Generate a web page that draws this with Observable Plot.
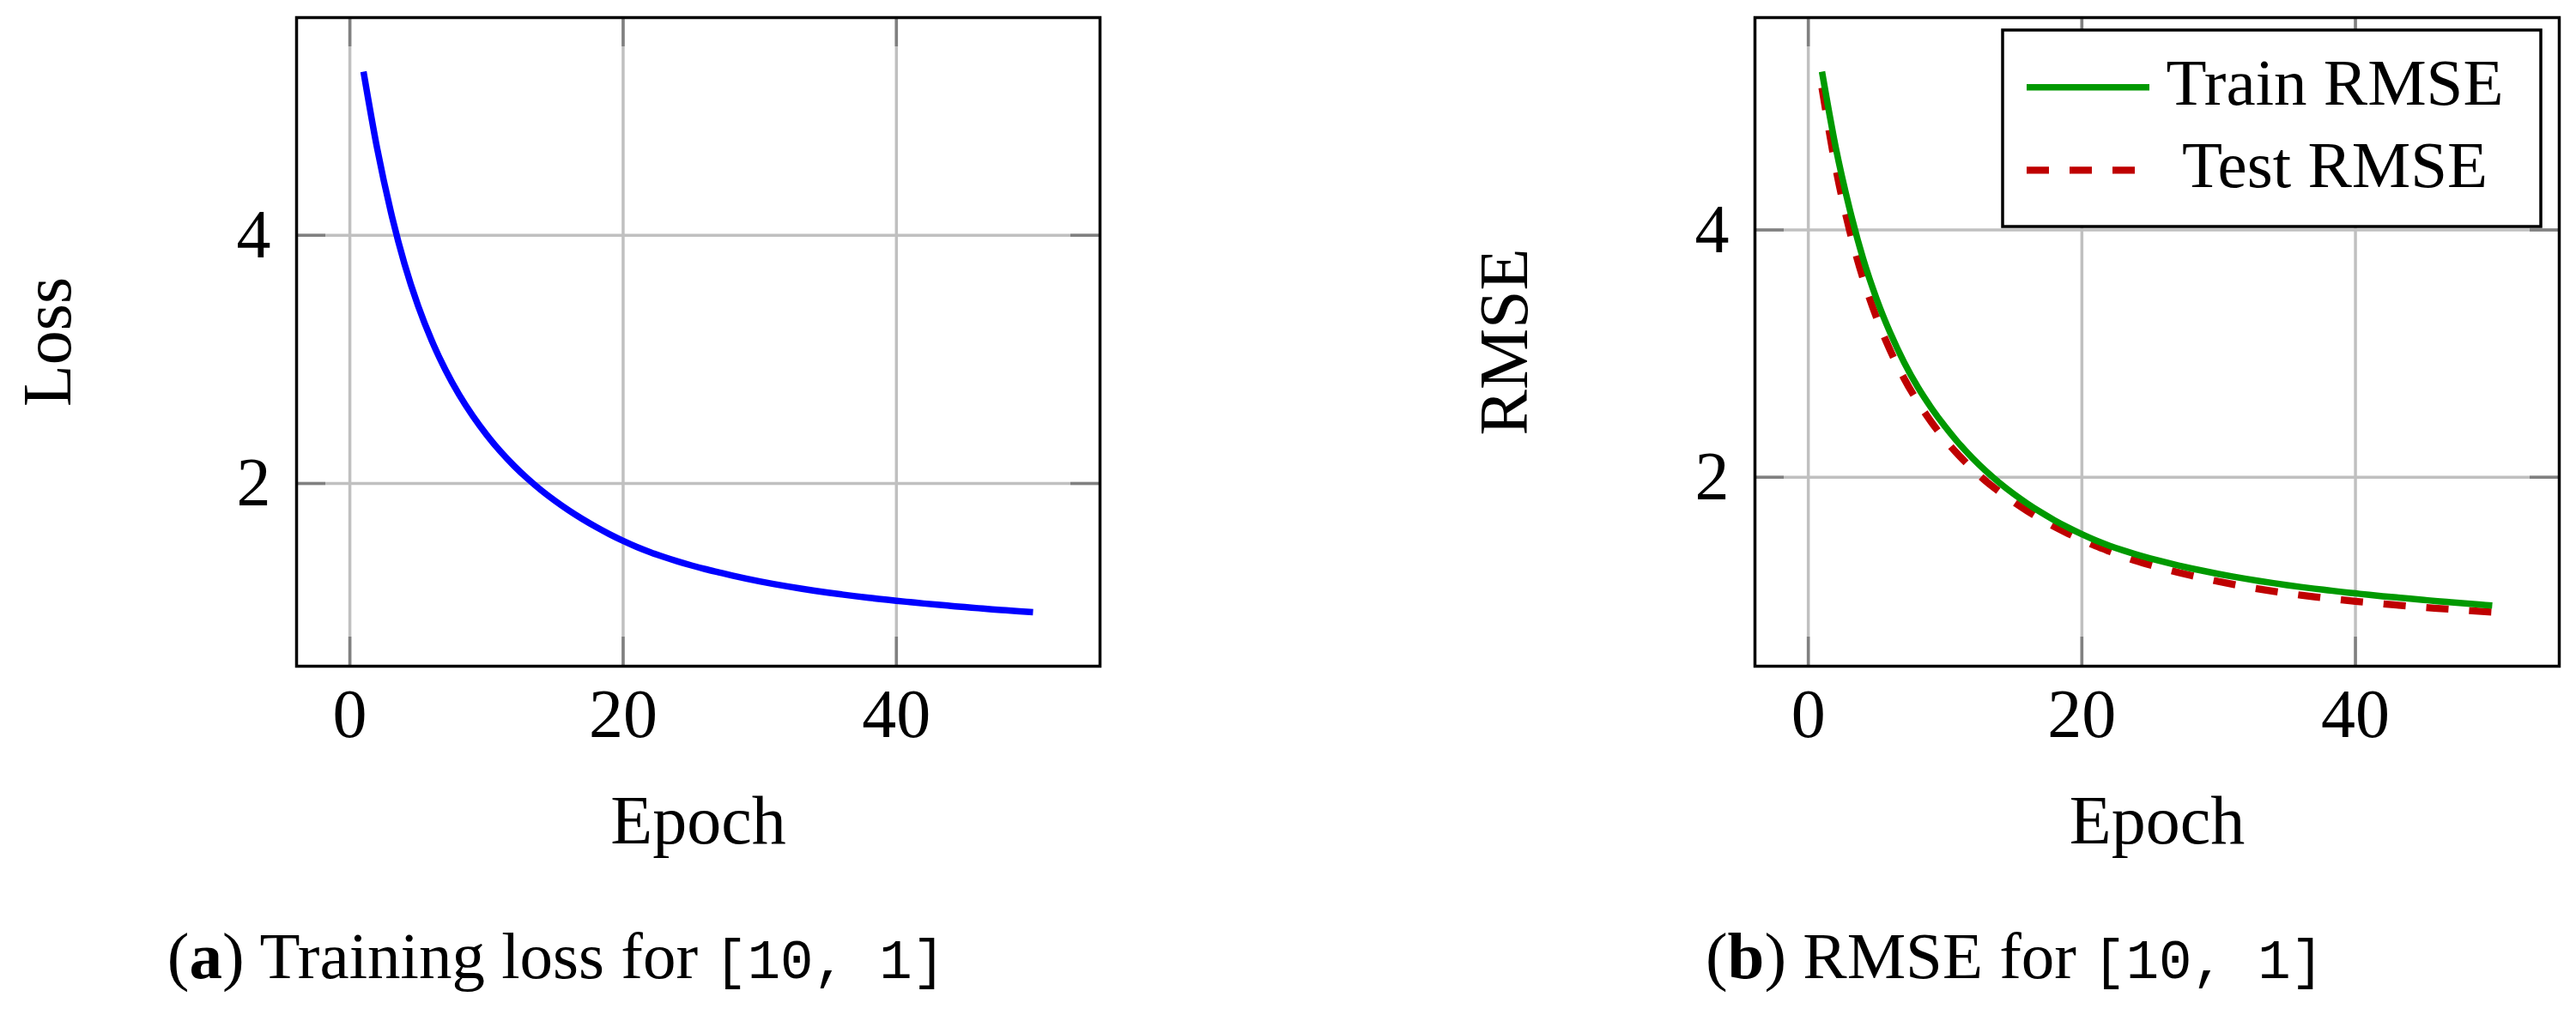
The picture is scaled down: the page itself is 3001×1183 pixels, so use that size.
<!DOCTYPE html>
<html><head><meta charset="utf-8">
<script src="https://cdn.jsdelivr.net/npm/d3@7"></script>
<script src="https://cdn.jsdelivr.net/npm/@observablehq/plot@0.6"></script>
<style>
html,body{margin:0;padding:0;background:#fff;}
#fig{position:relative;width:3001px;height:1183px;overflow:hidden;font-family:"Liberation Serif",serif;color:#000;}
.panel{position:absolute;top:0;}
.cap{position:absolute;top:1076px;width:1400px;text-align:center;font-size:77px;line-height:77px;white-space:nowrap;}
.tt{font-family:"Liberation Mono",monospace;font-size:64px;}
</style></head><body>
<div id="fig">
 <div id="left" class="panel" style="left:0"></div>
 <div id="right" class="panel" style="left:1500px"></div>
 <div class="cap" style="left:-52px">(<b>a</b>) Training loss for <span class="tt">[10, 1]</span></div>
 <div class="cap" style="left:1647px">(<b>b</b>) RMSE for <span class="tt">[10, 1]</span></div>
</div>
<script>
// ---- data ----
const epochs = [1,2,3,4,5,6,7,8,9,10,11,12,13,14,15,16,17,18,19,20,21,22,23,24,25,26,27,28,29,30,31,32,33,34,35,36,37,38,39,40,41,42,43,44,45,46,47,48,49,50];
const trainLoss = [5.32,4.70,4.19,3.77,3.43,3.15,2.915,2.715,2.544,2.394,2.261,2.144,2.040,1.946,1.862,1.785,1.715,1.651,1.592,1.538,1.489,1.446,1.407,1.372,1.340,1.3105,1.284,1.258,1.234,1.2115,1.1905,1.171,1.153,1.136,1.1205,1.106,1.092,1.079,1.067,1.055,1.044,1.033,1.023,1.0135,1.004,0.995,0.986,0.978,0.970,0.963];
const trainRMSE = [5.28,4.67,4.18,3.77,3.44,3.165,2.93,2.73,2.56,2.41,2.275,2.155,2.048,1.952,1.866,1.788,1.717,1.652,1.593,1.539,1.490,1.447,1.409,1.375,1.344,1.315,1.288,1.263,1.240,1.218,1.198,1.179,1.161,1.144,1.128,1.113,1.099,1.086,1.073,1.061,1.049,1.038,1.028,1.018,1.008,0.998,0.989,0.980,0.971,0.962];
const testRMSE = [5.15,4.507,4.005,3.608,3.288,3.023,2.80,2.610,2.446,2.303,2.178,2.067,1.967,1.881,1.801,1.728,1.662,1.600,1.544,1.493,1.445,1.402,1.361,1.323,1.290,1.260,1.232,1.2055,1.1805,1.157,1.135,1.1145,1.0955,1.078,1.0618,1.0468,1.0329,1.020,1.008,0.9967,0.9861,0.976,0.9664,0.9572,0.9484,0.940,0.9319,0.924,0.9163,0.909];
const xTicks = [0, 20, 40];
const yTicks = [2, 4];
const xLabel = "Epoch";
const yLabels = ["Loss", "RMSE"];
const legendLabels = ["Train RMSE", "Test RMSE"];

// ---- styles ----
const FONT = "Liberation Serif";
const GRID = "#c0c0c0", TICK = "#808080";
const BLUE = "#0000ff", GREEN = "#009900", RED = "#bf0000";

function padded(values) {
  const [a, b] = d3.extent(values);
  const r = b - a;
  return [a - 0.1 * r, b + 0.1 * r];
}

function panel({width, height, marginLeft, marginRight, marginTop, marginBottom, yLabel, yLabelDx, series}) {
  const fw = width - marginLeft - marginRight, fh = height - marginTop - marginBottom;
  const T = 34;
  const allY = series.flatMap(s => s.values);
  return Plot.plot({
    width, height, marginLeft, marginRight, marginTop, marginBottom,
    style: {fontFamily: FONT, fontSize: "80px", background: "white", color: "black", overflow: "visible"},
    x: {domain: padded(epochs), axis: null},
    y: {domain: padded(allY), axis: null},
    marks: [
      Plot.ruleX(xTicks, {x: d => d, stroke: GRID, strokeWidth: 3.5}),
      Plot.ruleY(yTicks, {y: d => d, stroke: GRID, strokeWidth: 3.5}),
      Plot.tickX(xTicks, {x: d => d, stroke: TICK, strokeWidth: 3.5, insetTop: fh - T}),
      Plot.tickX(xTicks, {x: d => d, stroke: TICK, strokeWidth: 3.5, insetBottom: fh - T}),
      Plot.tickY(yTicks, {y: d => d, stroke: TICK, strokeWidth: 3.5, insetRight: fw - T}),
      Plot.tickY(yTicks, {y: d => d, stroke: TICK, strokeWidth: 3.5, insetLeft: fw - T}),
      ...series.map(s => Plot.line(epochs.map((e, i) => ({e, v: s.values[i]})), {
        x: "e", y: "v", stroke: s.color, strokeWidth: s.width,
        strokeDasharray: s.dash, strokeLinecap: "butt", strokeLinejoin: "round", curve: "monotone-x"
      })),
      Plot.frame({stroke: "black", strokeWidth: 3.5}),
      Plot.text(xTicks, {x: d => d, frameAnchor: "bottom", dy: 26, textAnchor: "middle", lineAnchor: "top", text: d => String(d), fontSize: 80}),
      Plot.text(yTicks, {y: d => d, frameAnchor: "left", dx: -30, textAnchor: "end", lineAnchor: "middle", text: d => String(d), fontSize: 80}),
      Plot.text([xLabel], {frameAnchor: "bottom", dy: 181, textAnchor: "middle", lineAnchor: "middle", text: d => d, fontSize: 80}),
      Plot.text([yLabel], {frameAnchor: "left", dx: yLabelDx, rotate: -90, textAnchor: "middle", lineAnchor: "middle", text: d => d, fontSize: 80})
    ]
  });
}

const leftPlot = panel({
  width: 1500, height: 1020, marginLeft: 345, marginRight: 219, marginTop: 20, marginBottom: 244,
  yLabel: yLabels[0], yLabelDx: -289,
  series: [{values: trainLoss, color: BLUE, width: 7.5, dash: null}]
});
document.getElementById("left").appendChild(leftPlot);

const rightSeries = [
  {values: trainRMSE, color: GREEN, width: 7.5, dash: null},
  {values: testRMSE, color: RED, width: 8.3, dash: "26,24"}
];
const rightPlot = panel({
  width: 1501, height: 1020, marginLeft: 544, marginRight: 20, marginTop: 20, marginBottom: 244,
  yLabel: yLabels[1], yLabelDx: -291,
  series: [rightSeries[1], rightSeries[0]]
});
document.getElementById("right").appendChild(rightPlot);

// legend in the top-right corner of the right panel's frame
(function legend() {
  const frameRight = 1501 - 20, frameTop = 20;
  const boxW = 627, boxH = 229;
  const bx = frameRight - 21 - boxW, by = frameTop + 15;
  const g = d3.select(rightPlot).append("g").attr("class", "legend");
  g.append("rect").attr("x", bx).attr("y", by).attr("width", boxW).attr("height", boxH)
    .attr("fill", "white").attr("stroke", "black").attr("stroke-width", 3.5);
  rightSeries.forEach((s, i) => {
    const cy = by + 66.7 + i * 96.6;
    g.append("line").attr("x1", bx + 28).attr("x2", bx + 171).attr("y1", cy).attr("y2", cy)
      .attr("stroke", s.color).attr("stroke-width", s.width)
      .attr("stroke-dasharray", s.dash).attr("stroke-linecap", "butt");
    g.append("text").attr("x", bx + 387).attr("y", cy + 20).attr("text-anchor", "middle")
      .attr("font-family", FONT).attr("font-size", 77).attr("fill", "black")
      .text(legendLabels[i]);
  });
})();
</script>
</body></html>
